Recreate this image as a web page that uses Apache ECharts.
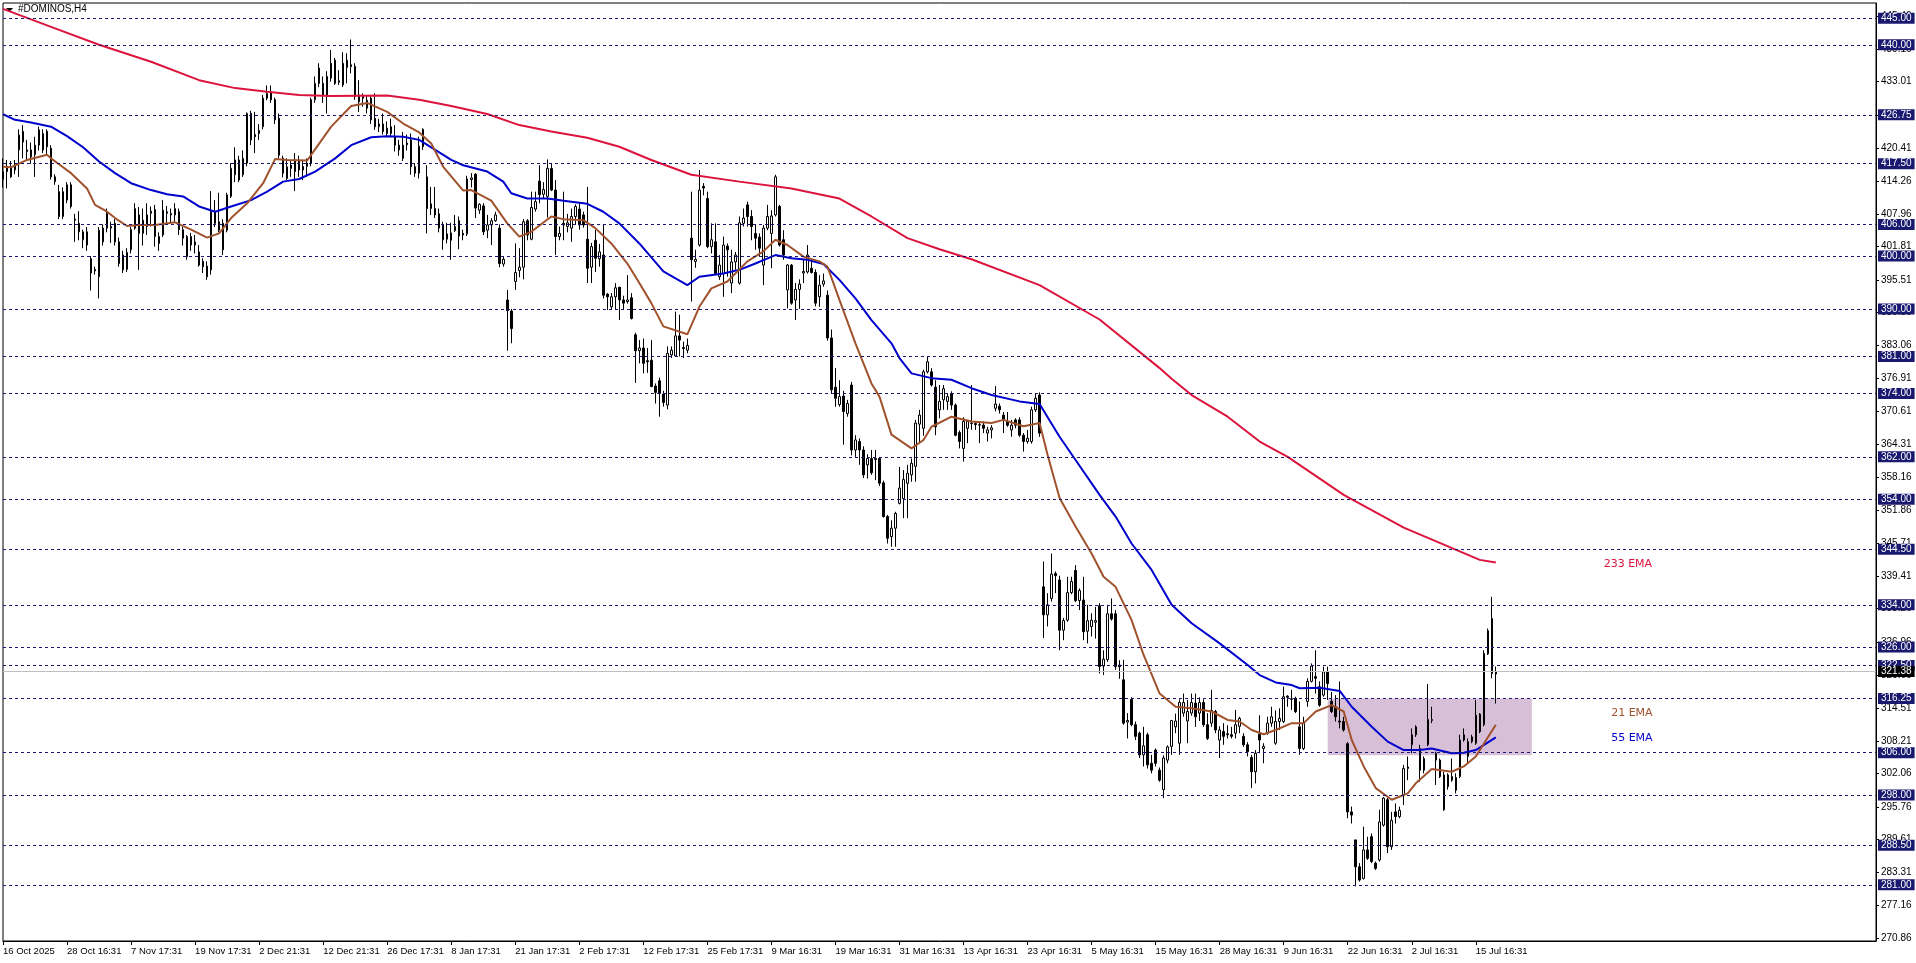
<!DOCTYPE html>
<html>
<head>
<meta charset="utf-8">
<script src="https://cdn.jsdelivr.net/npm/echarts@6/dist/echarts.min.js"></script>
<style>
html,body{margin:0;padding:0;background:#fff;overflow:hidden;}
#c{width:1916px;height:963px;}
</style>
</head>
<body>
<div id="c"></div>
<script>
// ---------------- DATA ----------------
const symbolName = '#DOMINOS,H4';
const xTickLabels = ['16 Oct 2025','28 Oct 16:31','7 Nov 17:31','19 Nov 17:31','2 Dec 21:31','12 Dec 21:31','26 Dec 17:31','8 Jan 17:31','21 Jan 17:31','2 Feb 17:31','12 Feb 17:31','25 Feb 17:31','9 Mar 16:31','19 Mar 16:31','31 Mar 16:31','13 Apr 16:31','23 Apr 16:31','5 May 16:31','15 May 16:31','28 May 16:31','9 Jun 16:31','22 Jun 16:31','2 Jul 16:31','15 Jul 16:31'];
const yTicks = [270.86,277.16,283.31,289.61,295.76,302.06,308.21,314.51,320.66,326.96,333.26,339.41,345.71,351.86,358.16,364.31,370.61,376.91,383.06,389.36,395.51,401.81,407.96,414.26,420.41,426.71,433.01,439.16,445.46];
const levels = [445,440,426.75,417.5,406,400,390,381,374,362,354,344.5,334,326,322.5,316.25,306,298,288.5,281];
const lastPrice = 321.38;
const zoneBars = [331, 382];
const zonePrices = [305.5, 316.25];
const emaTags = ['233 EMA','21 EMA','55 EMA'];

const opens = [
414.5,416.9,415.0,416.3,420.1,423.6,420.1,420.1,419.2,421.0,
420.1,423.6,420.4,415.0,412.2,407.5,410.6,413.5,407.0,406.2,
403.1,404.6,399.5,397.2,396.1,405.3,405.3,405.6,406.2,402.7,
400.2,397.5,401.2,405.3,407.8,404.3,407.8,408.1,408.8,403.7,
404.0,408.1,407.8,407.8,408.4,405.0,399.9,403.7,402.1,400.8,
399.0,398.1,397.4,408.4,404.9,406.2,404.9,411.3,415.4,418.2,
415.4,417.6,427.0,423.0,423.2,424.5,429.9,431.1,429.6,426.1,
418.5,414.7,417.2,416.0,418.0,416.3,417.6,417.6,429.6,435.6,
432.7,430.2,433.7,437.1,432.9,432.4,435.7,436.2,435.9,430.5,
430.2,428.0,429.9,426.1,424.5,425.0,424.2,423.2,422.6,421.0,
418.5,421.4,422.0,416.9,415.7,420.7,415.0,409.0,409.0,408.0,
405.9,403.2,403.0,404.8,406.7,404.3,404.2,414.5,415.5,408.7,
409.5,404.9,405.9,406.7,405.3,398.5,391.7,389.6,395.2,397.3,
397.9,406.7,403.2,408.9,414.2,411.7,411.3,416.6,412.5,403.7,
406.2,405.6,405.3,407.5,408.9,407.8,403.2,397.9,403.0,399.5,
400.2,392.8,390.4,392.3,394.1,391.7,391.4,392.1,385.1,382.1,
382.6,380.2,380.3,375.4,376.4,373.9,371.8,381.3,381.1,384.9,
382.7,382.2,403.4,399.0,402.1,413.2,410.9,401.8,402.7,396.1,
396.7,401.9,394.9,398.9,394.9,406.2,409.7,407.5,404.3,403.6,
398.3,405.3,404.3,407.8,409.4,403.1,393.6,398.3,391.7,393.7,
396.8,397.0,397.7,396.9,392.3,394.7,392.6,384.5,375.2,371.9,
373.5,370.2,375.6,363.3,364.9,363.3,360.5,361.7,361.7,361.7,
357.1,350.7,346.9,348.5,353.2,354.1,357.0,358.6,360.2,368.2,
367.4,378.1,378.1,375.2,370.9,372.8,372.5,374.0,371.8,366.6,
363.6,367.4,368.3,368.3,368.0,368.0,366.5,367.1,371.2,371.6,
369.9,368.7,367.1,369.0,369.0,366.1,364.9,364.9,370.9,373.7,
337.4,332.1,335.2,339.9,338.7,329.2,331.1,336.3,340.5,334.8,
334.9,329.0,329.9,330.7,333.8,322.4,323.6,332.3,332.3,322.6,
319.8,311.8,316.1,311.3,309.7,305.6,309.4,304.0,306.5,302.7,
299.0,304.6,307.2,310.9,307.8,313.5,312.0,313.5,315.4,313.5,
315.5,311.3,311.6,313.8,308.4,310.0,309.4,309.4,309.7,311.0,
309.1,307.5,305.1,302.4,309.5,306.8,309.7,311.6,307.8,311.9,
311.9,316.7,316.2,316.3,310.9,306.8,315.7,319.5,320.4,318.5,
316.9,321.3,315.7,314.7,312.0,311.9,307.7,294.8,289.5,284.4,
282.2,287.6,290.1,285.1,285.7,292.3,297.1,288.2,294.8,293.9,
298.0,303.0,307.5,309.4,306.8,302.7,307.5,312.1,305.9,304.6,
295.2,301.8,301.5,301.3,301.5,308.4,305.3,308.1,307.8,313.3,
311.3,324.7,331.4,320.9];
const highs = [
418.5,418.2,418.0,418.2,424.0,424.8,422.0,421.5,422.6,424.5,
424.0,424.0,421.0,415.5,413.5,413.0,414.0,414.0,408.0,408.5,
405.0,405.5,400.0,398.0,405.5,406.0,409.0,406.5,407.0,403.5,
401.0,401.5,405.5,410.0,409.3,409.0,410.0,409.4,409.7,404.5,
410.6,409.5,409.0,410.0,409.0,405.6,404.0,404.4,404.0,402.1,
399.6,399.0,412.3,410.6,412.0,407.0,412.0,417.6,420.6,419.0,
420.0,427.2,427.5,427.3,425.0,430.5,432.3,432.3,430.0,427.0,
419.0,418.5,418.0,419.5,419.0,418.0,418.5,430.0,434.0,436.5,
434.0,435.0,439.0,437.5,435.2,438.6,438.4,441.0,436.5,433.3,
430.8,430.5,430.5,430.8,426.0,427.0,425.5,426.0,424.8,422.0,
423.5,423.0,423.2,417.6,422.6,424.2,417.2,413.1,413.1,409.0,
406.5,406.3,406.3,407.8,407.5,405.0,415.2,415.7,415.7,410.0,
410.0,407.8,407.2,408.4,406.0,400.0,393.6,390.0,402.4,401.5,
407.0,407.0,412.2,412.2,417.2,414.0,418.3,417.6,414.4,405.6,
412.2,408.0,409.0,409.8,410.0,408.4,413.1,402.5,405.0,402.3,
406.0,393.0,393.0,394.9,394.2,392.5,396.4,393.0,385.5,384.1,
384.4,382.6,384.1,375.9,377.0,374.5,382.9,382.9,389.5,388.9,
383.8,384.4,412.2,401.2,416.3,413.8,412.2,406.2,406.2,400.2,
403.7,402.4,401.2,400.8,407.5,409.0,410.3,408.7,405.9,404.3,
405.9,409.7,408.7,415.4,409.7,404.9,398.5,398.5,394.9,395.6,
399.3,402.1,399.3,397.5,396.4,396.7,393.5,386.1,378.8,376.5,
374.5,372.8,376.2,366.1,365.5,364.0,362.5,363.3,363.3,362.0,
357.5,351.0,350.0,351.6,360.1,359.5,360.5,361.7,369.0,370.9,
378.5,381.0,378.8,376.5,375.6,375.6,374.0,374.4,372.1,367.0,
369.5,369.0,375.6,368.7,368.7,368.7,367.7,368.0,375.4,372.1,
370.5,370.5,369.0,369.3,369.5,366.5,367.1,371.5,374.0,374.2,
342.2,336.2,343.7,340.3,339.5,331.5,339.3,339.3,341.5,337.1,
339.3,334.0,332.4,333.6,334.3,325.4,334.0,335.2,333.0,323.5,
323.6,313.5,316.5,311.9,310.0,310.9,309.8,305.6,306.8,303.2,
305.5,307.4,312.2,313.4,316.1,317.2,316.0,317.2,317.2,316.5,
316.1,313.5,317.9,314.1,311.0,311.6,311.2,310.9,314.1,312.8,
309.7,308.0,305.6,306.5,313.1,307.8,312.8,314.7,314.0,314.4,
318.5,316.9,317.9,316.6,315.7,312.8,320.1,322.9,325.4,319.5,
322.3,322.3,317.5,316.9,319.5,312.8,308.0,295.8,289.5,285.1,
292.0,290.1,290.7,285.4,295.2,297.6,297.5,294.8,296.4,295.8,
303.7,305.3,310.6,311.2,307.5,305.3,319.0,314.7,306.2,304.9,
302.4,302.1,304.9,302.1,309.4,310.6,308.7,309.4,316.0,313.5,
325.4,329.5,335.5,322.3];
const lows = [
413.0,412.8,414.8,415.5,415.0,418.5,418.2,417.5,415.0,420.0,
419.5,419.0,414.5,413.5,407.0,407.0,410.0,409.0,402.7,403.0,
401.5,401.0,393.5,396.5,392.0,402.0,404.5,402.5,402.0,398.0,
396.8,397.0,400.5,405.0,397.4,402.0,404.0,405.6,401.8,401.0,
403.6,406.0,406.2,406.5,404.0,402.0,399.3,401.0,400.5,398.0,
396.8,395.5,396.5,405.5,404.5,400.2,404.5,411.0,414.0,414.0,
415.0,417.0,421.0,419.5,422.0,424.0,429.5,429.0,425.0,418.5,
414.9,414.4,415.0,412.3,415.0,414.4,415.0,417.0,429.0,432.0,
429.0,427.0,433.0,432.4,432.4,432.0,432.7,434.6,429.6,427.3,
428.3,427.0,425.0,423.9,423.5,423.0,422.5,422.5,419.8,419.0,
418.0,420.0,415.4,415.0,414.7,420.1,404.3,407.8,407.2,404.5,
401.2,402.4,399.3,404.6,401.3,403.0,403.8,413.0,407.2,408.0,
404.0,403.4,402.1,406.5,397.9,398.0,382.1,383.5,393.6,396.0,
395.6,403.0,403.0,408.4,410.0,411.0,407.3,412.3,400.2,403.0,
403.0,404.5,402.7,406.0,405.0,405.4,394.9,394.9,397.0,398.0,
392.0,389.8,390.0,389.8,387.9,390.0,391.0,388.0,376.0,379.7,
377.8,377.9,375.2,372.1,369.6,371.5,371.0,380.7,381.0,381.0,
380.7,381.6,391.4,397.8,401.8,411.5,401.5,400.5,396.4,395.5,
392.3,396.1,393.0,397.4,394.6,405.6,405.6,403.0,401.2,400.0,
394.5,404.9,397.7,407.5,401.8,399.3,390.1,390.8,387.9,390.0,
394.9,396.7,396.7,390.5,390.4,394.2,384.0,374.0,371.5,371.5,
364.3,369.6,362.3,362.0,360.5,358.0,357.9,358.6,357.6,356.5,
350.5,345.6,345.0,345.0,353.0,350.4,350.4,357.3,357.3,364.6,
366.0,377.8,375.3,366.1,369.3,370.9,370.9,370.9,365.9,363.6,
361.1,364.6,367.1,367.1,364.6,366.5,364.9,365.5,370.6,370.2,
366.5,367.7,365.8,367.4,365.8,363.0,364.5,364.5,370.5,365.8,
327.7,329.9,334.6,336.2,325.4,327.3,330.8,336.0,334.5,333.0,
327.3,326.7,328.0,327.6,321.0,320.7,323.2,331.0,321.7,320.0,
311.3,308.7,311.0,308.4,305.0,303.4,303.0,302.1,303.4,300.5,
297.4,304.0,305.6,309.7,305.6,312.8,307.8,313.0,310.9,312.0,
310.9,308.4,310.9,309.7,305.0,307.5,308.7,308.7,308.7,309.7,
307.1,305.3,299.3,300.2,305.9,304.0,309.4,310.9,307.5,310.3,
311.6,314.7,314.1,313.5,305.6,306.5,314.7,319.3,317.2,314.7,
316.6,316.0,313.5,311.9,310.6,310.0,293.6,292.6,280.7,281.6,
282.0,285.7,285.1,283.8,285.4,292.0,287.0,287.6,292.6,293.6,
296.1,300.8,305.9,309.0,300.5,302.1,307.2,311.6,299.9,301.2,
295.0,299.0,300.5,298.3,301.2,308.1,304.0,307.8,307.5,309.7,
311.0,324.5,320.1,315.3];
const closes = [
416.0,416.0,416.9,417.2,422.9,421.6,419.8,418.8,421.0,423.9,
423.2,420.7,415.0,414.1,407.5,412.2,413.5,409.4,406.8,404.6,
404.6,402.1,396.8,397.5,404.9,402.7,408.1,405.3,402.7,398.6,
397.4,400.7,405.0,409.0,404.3,406.8,405.6,408.5,403.7,402.4,
408.7,408.4,408.1,409.0,405.0,403.4,403.7,402.1,402.7,398.3,
398.0,396.1,408.4,406.2,406.5,401.2,411.6,416.6,418.2,414.4,
418.5,427.0,422.0,422.6,423.8,429.9,430.8,429.6,425.8,419.1,
415.7,416.9,416.6,418.2,416.3,417.0,417.0,429.6,432.7,432.7,
430.5,434.0,436.5,432.7,433.2,436.5,437.1,435.9,430.2,429.2,
429.9,429.5,425.8,424.5,425.0,423.6,423.2,424.5,421.0,420.1,
421.0,421.1,416.9,415.7,420.8,424.0,409.0,409.9,407.8,405.3,
403.1,404.2,404.4,405.6,403.8,404.0,414.6,414.8,409.1,409.8,
404.6,405.9,406.7,407.8,398.6,399.4,389.7,386.3,396.9,397.9,
406.5,404.0,409.2,410.3,411.6,412.6,416.6,412.5,403.7,404.3,
405.9,406.3,407.5,409.4,405.9,405.9,397.7,401.8,399.6,400.8,
392.6,392.3,392.3,394.0,391.7,391.1,391.7,388.2,382.1,382.6,
379.7,380.0,375.3,374.2,374.0,372.3,381.6,382.2,384.9,384.1,
382.5,383.1,399.3,399.4,412.5,412.9,401.8,403.1,396.7,398.3,
402.1,401.2,398.9,400.2,406.3,407.2,407.5,405.6,403.4,401.5,
405.3,407.5,407.6,415.0,402.1,400.2,398.3,391.1,393.7,394.7,
397.1,400.2,396.9,391.1,394.5,395.3,384.5,374.7,373.1,373.4,
370.6,372.1,363.3,365.2,363.3,358.6,361.7,359.0,361.5,357.0,
350.7,346.6,348.5,351.3,356.1,357.7,358.9,360.8,368.4,369.9,
378.1,380.0,375.6,367.7,372.5,374.9,373.4,371.8,366.1,364.9,
368.7,368.7,368.4,368.1,368.1,367.4,367.1,367.5,372.0,370.9,
369.0,368.0,368.0,368.0,366.1,364.9,365.5,370.9,373.1,366.5,
332.1,334.0,339.8,339.5,329.2,331.0,336.3,338.4,334.8,336.7,
328.9,331.0,331.1,331.0,322.3,323.7,332.3,331.3,322.3,322.3,
311.6,312.1,311.3,309.1,305.6,307.3,303.7,302.7,304.0,300.8,
305.0,307.1,312.1,312.0,315.5,315.5,313.8,315.5,312.8,315.5,
311.3,308.7,314.0,310.3,310.3,309.1,309.6,309.1,311.3,312.5,
307.5,306.2,302.4,305.9,308.4,307.2,311.6,312.8,311.9,312.5,
316.6,316.5,316.1,313.8,306.8,311.6,319.5,322.4,320.1,315.0,
321.3,319.1,313.8,312.8,311.8,310.3,294.8,294.2,284.4,281.9,
287.6,286.0,285.4,284.1,292.9,297.4,288.2,293.2,293.9,295.1,
303.0,303.3,309.4,310.9,302.7,304.9,312.3,312.3,304.6,301.5,
301.8,299.6,300.8,298.9,308.4,309.4,308.1,309.0,313.1,310.0,
324.8,329.1,321.0,321.38];

// EMA readings: [bar index, value]
const ema21 = [[0,416.9],[2,416.8],[6,418.2],[11,419.2],[12,418.5],[14,417.4],[17,415.7],[21,412.8],[23,409.7],[26,408.4],[28,407.2],[31,405.7],[34,405.9],[38,405.9],[43,406.4],[47,405.0],[51,403.5],[54,404.3],[57,407.2],[61,410.0],[65,413.8],[68,418.4],[71,418.2],[76,418.1],[79,421.3],[82,424.5],[87,428.4],[91,429.0],[96,427.3],[100,425.1],[104,423.4],[107,421.3],[110,416.9],[115,412.4],[117,412.5],[122,410.5],[126,406.2],[129,403.7],[132,404.6],[137,407.5],[140,407.0],[145,406.8],[148,405.3],[152,402.4],[156,398.6],[159,394.9],[162,391.1],[165,386.7],[171,385.2],[174,390.4],[177,393.9],[181,395.2],[186,399.0],[190,400.9],[193,403.1],[196,402.1],[200,399.9],[204,399.0],[206,398.0],[209,391.7],[213,383.5],[217,375.9],[219,373.4],[222,366.2],[227,363.6],[230,365.2],[232,367.7],[237,369.6],[242,368.7],[247,368.4],[250,369.0],[255,367.8],[259,368.4],[261,362.4],[264,354.2],[268,348.8],[272,343.7],[275,339.3],[278,337.4],[282,331.1],[285,324.5],[289,317.2],[293,314.7],[297,314.4],[302,313.8],[306,312.2],[309,311.9],[312,310.3],[315,309.5],[318,310.3],[322,311.6],[325,311.6],[328,313.8],[332,315.0],[335,313.8],[337,308.4],[340,303.4],[343,299.3],[347,297.1],[351,298.3],[353,300.2],[357,302.9],[362,302.4],[365,303.4],[368,305.3],[373,311.3]];
const ema55 = [[0,426.85],[3,425.8],[7,425.3],[12,424.5],[16,422.7],[20,420.6],[24,417.9],[28,415.7],[32,413.8],[37,412.5],[41,411.7],[45,411.3],[49,409.4],[53,408.4],[57,409.4],[62,410.6],[66,412.2],[70,414.1],[74,414.6],[78,416.0],[83,418.5],[87,421.0],[92,422.5],[96,422.7],[100,422.6],[104,422.0],[108,420.1],[112,418.2],[115,417.2],[121,416.0],[125,414.1],[127,411.9],[131,410.9],[136,410.9],[142,410.3],[146,409.9],[150,408.4],[154,406.2],[159,402.4],[165,397.1],[171,394.5],[174,396.1],[180,396.7],[184,397.4],[188,398.6],[193,400.2],[197,399.6],[201,399.3],[205,398.5],[209,395.5],[213,392.0],[217,387.9],[222,383.5],[224,380.7],[227,377.8],[232,376.9],[237,376.6],[242,375.0],[247,373.7],[254,372.5],[259,372.0],[264,365.8],[268,361.4],[274,354.8],[278,350.7],[282,345.6],[287,340.6],[292,334.0],[297,330.5],[304,326.7],[311,322.6],[314,320.7],[318,319.3],[322,318.8],[324,318.2],[329,318.3],[334,317.7],[337,314.7],[342,310.9],[346,308.1],[350,306.5],[354,306.5],[357,306.8],[362,305.9],[365,306.0],[368,306.5],[373,308.9]];
const ema233 = [[0,446.8],[12,443.4],[24,440.0],[37,436.8],[49,433.3],[58,431.8],[66,431.1],[74,430.5],[82,430.3],[96,430.4],[104,429.6],[112,428.4],[121,426.9],[129,424.8],[137,423.6],[146,422.4],[154,420.7],[162,418.2],[172,415.4],[184,414.1],[197,412.8],[209,410.9],[217,407.5],[226,403.4],[234,401.3],[242,399.4],[259,394.5],[274,388.0],[289,378.8],[292,376.8],[297,373.7],[306,369.6],[314,364.9],[321,362.0],[335,354.8],[350,348.6],[369,342.5],[373,342.0]];

// ---------------- CHART ----------------
const totalSlots = 469;
const yMin = 270.36, yMax = 447.91;
const FONT = 'Liberation Sans';
const NAVY = '#191970';

const cats = Array.from({length: totalSlots}, (_, i) => String(i));
const candles = opens.map((o, i) => [o, closes[i], lows[i], highs[i]]);
const tickShown = (idx) => idx % 16 === 0 && idx / 16 < xTickLabels.length;

const chart = echarts.init(document.getElementById('c'), null, {renderer: 'canvas'});
const option = {
  animation: false,
  backgroundColor: '#ffffff',
  grid: {left: 3, right: 40, top: 3, bottom: 22, show: true, borderColor: '#000', borderWidth: 1, backgroundColor: 'transparent'},
  xAxis: {
    type: 'category', data: cats, boundaryGap: false,
    axisLine: {show: true, lineStyle: {color: '#000', width: 1}},
    axisTick: {show: true, interval: tickShown, length: 4, lineStyle: {color: '#000'}},
    axisLabel: {interval: tickShown, align: 'left', color: '#000', fontFamily: FONT, fontSize: 9.5, margin: 5,
      formatter: (v, idx) => (idx % 16 === 0 && xTickLabels[idx / 16]) ? xTickLabels[idx / 16] : ''},
    splitLine: {show: false}
  },
  yAxis: {
    type: 'value', position: 'right', min: yMin, max: yMax, scale: true,
    axisLine: {show: true, lineStyle: {color: '#000', width: 1}},
    axisTick: {show: true, customValues: yTicks, length: 3, lineStyle: {color: '#000'}},
    axisLabel: {customValues: yTicks, formatter: v => Number(v).toFixed(2), color: '#000', fontFamily: FONT, fontSize: 10, margin: 5},
    splitLine: {show: false}
  },
  graphic: [
    {type: 'polygon', shape: {points: [[6, 8], [13, 8], [9.5, 12]]}, style: {fill: '#000'}},
    {type: 'text', left: 18, top: 4, style: {text: symbolName, font: '10px "Liberation Sans"', fill: '#000'}}
  ],
  series: [
    {
      type: 'line', data: [], z: 1, silent: true,
      markArea: {silent: true, itemStyle: {color: '#D8BFD8', opacity: 1},
        data: [[{xAxis: zoneBars[0], yAxis: zonePrices[1]}, {xAxis: zoneBars[1], yAxis: zonePrices[0]}]]}
    },
    {
      type: 'line', data: [], z: 2, silent: true,
      markLine: {
        silent: true, symbol: ['none', 'none'], animation: false,
        lineStyle: {color: NAVY, type: [3, 3], width: 1},
        label: {show: true, position: 'end', distance: 2, formatter: p => Number(p.value).toFixed(2),
          color: '#fff', backgroundColor: NAVY, padding: [1, 3, 0, 3], fontFamily: FONT, fontSize: 10, lineHeight: 10},
        data: levels.map(v => ({yAxis: v})).concat([{yAxis: lastPrice,
          lineStyle: {color: '#c0c0c0', type: 'solid', width: 1},
          label: {backgroundColor: '#000', color: '#fff'}}])
      },
      markPoint: {
        silent: true, symbol: 'rect', symbolSize: 1, itemStyle: {color: 'rgba(0,0,0,0)'},
        label: {show: true, position: 'inside', fontFamily: 'DejaVu Sans', fontSize: 11},
        data: [
          {coord: [406, 341.7], label: {formatter: emaTags[0], color: '#DC143C'}},
          {coord: [407, 313.5], label: {formatter: emaTags[1], color: '#A0522D'}},
          {coord: [407, 308.8], label: {formatter: emaTags[2], color: '#0000CD'}}
        ]
      }
    },
    {
      type: 'candlestick', data: candles, z: 3, barWidth: 2,
      itemStyle: {color: '#ffffff', color0: '#000000', borderColor: '#000000', borderColor0: '#000000', borderWidth: 1}
    },
    {type: 'line', data: ema233, z: 4, showSymbol: false, symbol: 'none', lineStyle: {color: '#DC143C', width: 2}},
    {type: 'line', data: ema55, z: 4, showSymbol: false, symbol: 'none', lineStyle: {color: '#0000CD', width: 2}},
    {type: 'line', data: ema21, z: 4, showSymbol: false, symbol: 'none', lineStyle: {color: '#A0522D', width: 2}}
  ]
};
chart.setOption(option);
</script>
</body>
</html>
